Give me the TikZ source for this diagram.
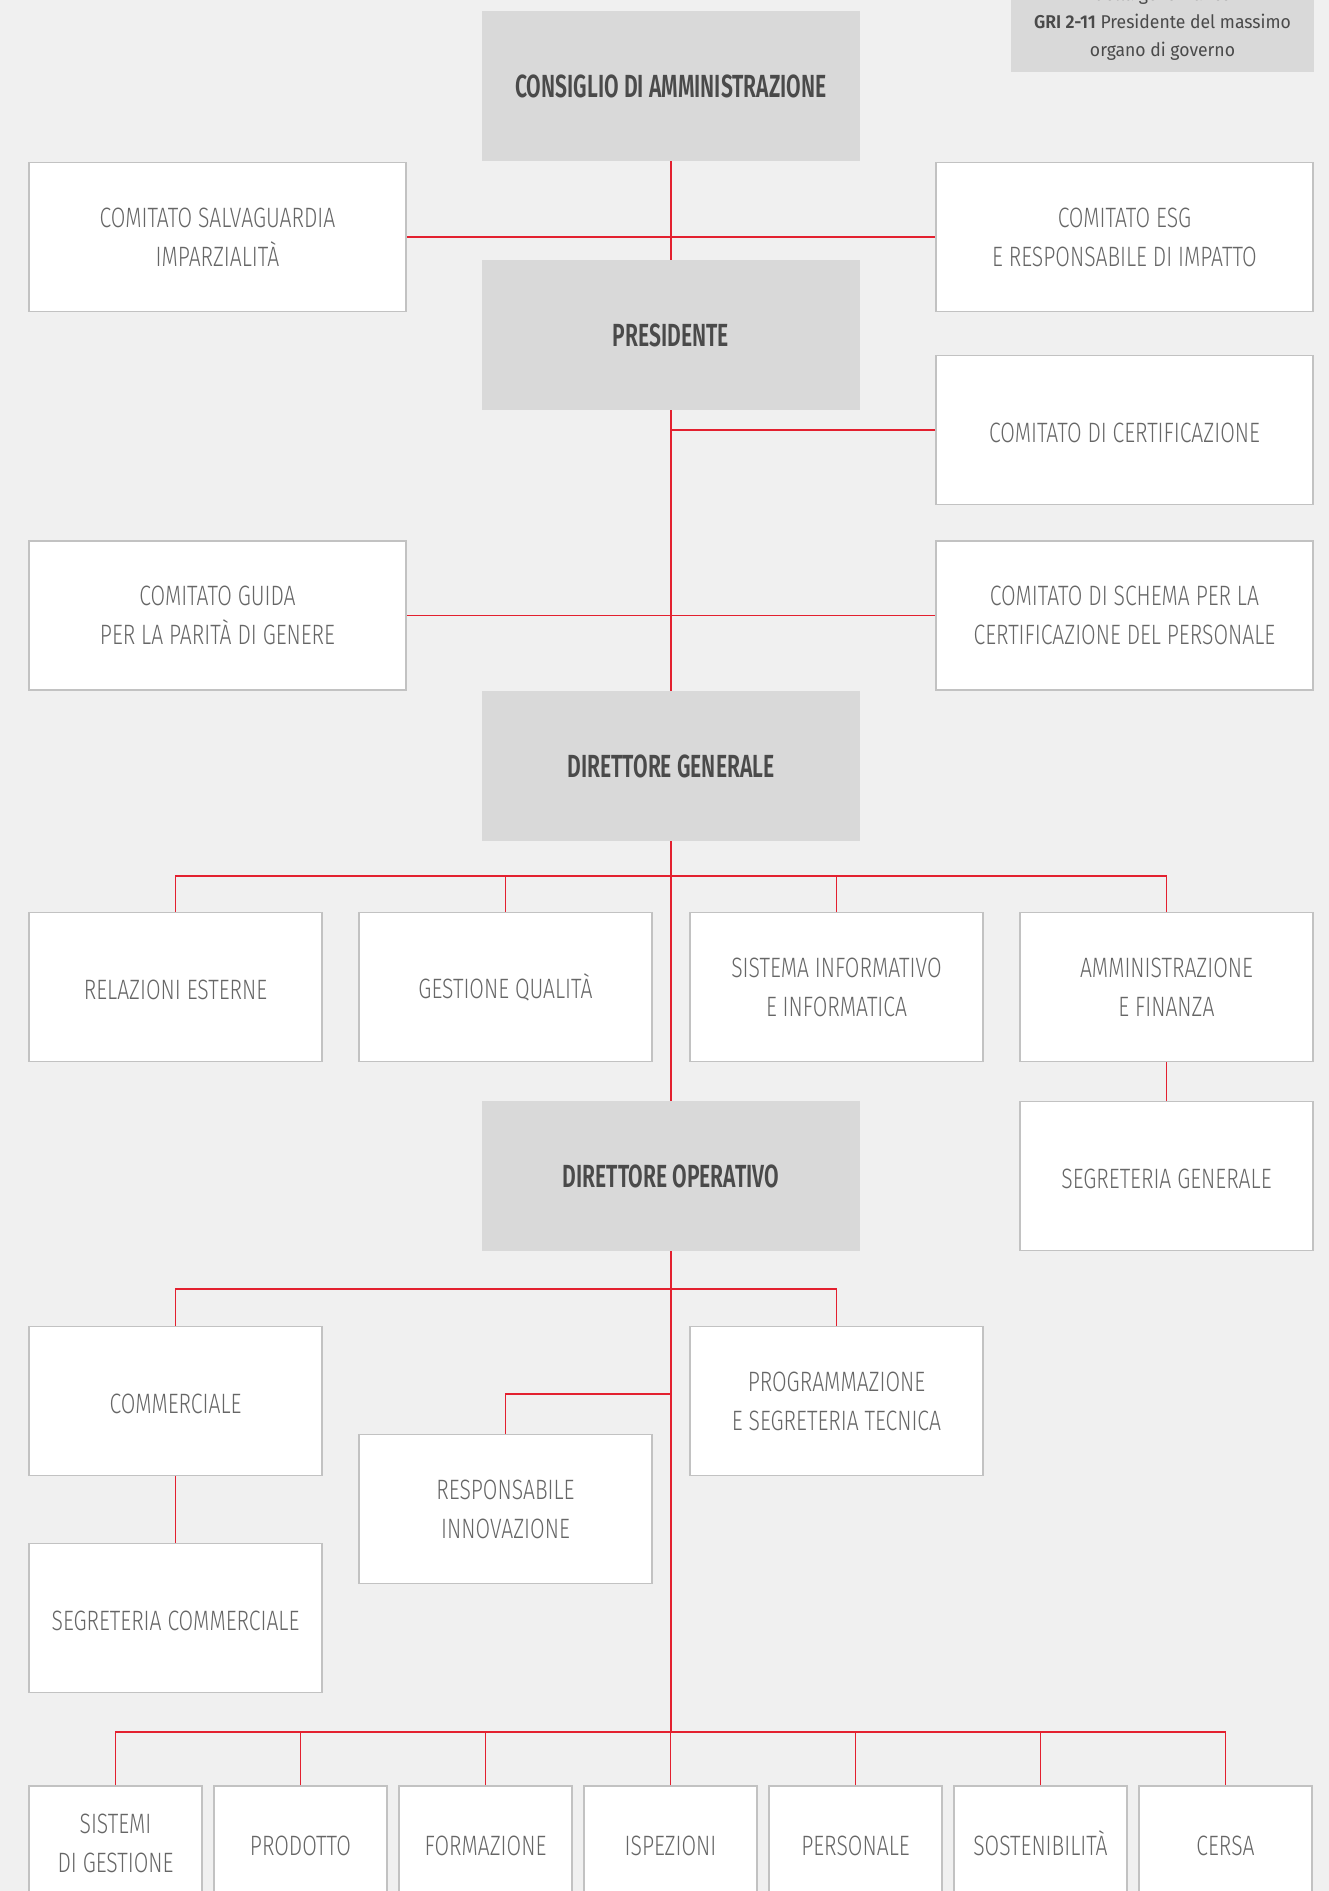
\documentclass[tikz,border=0pt]{standalone}
\usepackage{fontspec}
\setmainfont{Fira Sans}
\newfontfamily\lightf{Fira Sans Light}[FakeStretch=0.755]
\newfontfamily\boldf{Fira Sans SemiBold}[FakeStretch=0.66]
\newfontfamily\notef{Fira Sans}[FakeStretch=0.95]
\newfontfamily\notebf{Fira Sans SemiBold}[FakeStretch=0.95]
\newcommand{\acph}{\vphantom{À}}
\definecolor{bg}{HTML}{F0F0F0}
\definecolor{boxgray}{HTML}{D9D9D9}
\definecolor{headtxt}{HTML}{4A4A4A}
\definecolor{bodytxt}{HTML}{666666}
\definecolor{boxline}{HTML}{C2C2C2}
\definecolor{linkred}{HTML}{E3202F}
\begin{document}
\begin{tikzpicture}[x=1pt,y=-1pt,
  gbox/.style={fill=boxgray, draw=none, minimum width=378pt, minimum height=150pt, inner sep=0pt, font=\boldf\fontsize{32}{38}\selectfont, text=headtxt},
  wbox/.style={fill=white, draw=boxline, line width=1.5pt, minimum height=149pt, inner sep=0pt, align=center, font=\lightf\fontsize{28}{39}\selectfont, text=bodytxt},
  widebox/.style={wbox, minimum width=377pt},
  midbox/.style={wbox, minimum width=293pt},
  smallbox/.style={wbox, minimum width=173pt, minimum height=114pt},
  link/.style={draw=linkred, line width=1.5pt}]
\useasboundingbox (0,0) rectangle (1329,1891);
\clip (0,0) rectangle (1329,1891);
\fill[bg] (0,0) rectangle (1329,1891);

% note box
\node[fill=boxgray, minimum width=303pt, minimum height=96pt, inner sep=0pt, align=center,
  font=\notef\fontsize{18.5}{28}\selectfont, text=headtxt] (note) at (1162.5,24)
  {della governance\\{\notebf GRI 2-11} Presidente del massimo\\organo di governo};

% main column
\node[gbox] (cda) at (671,86) {CONSIGLIO DI AMMINISTRAZIONE};
\node[gbox] (pres) at (671,335) {PRESIDENTE};
\node[gbox] (dg) at (671,766) {DIRETTORE GENERALE};
\node[gbox] (do) at (671,1176) {DIRETTORE OPERATIVO};

% committees
\node[widebox] (salv) at (217.5,237) {COMITATO SALVAGUARDIA\\IMPARZIALITÀ};
\node[widebox] (esg) at (1124.5,237) {COMITATO ESG\\E RESPONSABILE DI IMPATTO};
\node[widebox] (cert) at (1124.5,430) {\acph COMITATO DI CERTIFICAZIONE};
\node[widebox] (guida) at (217.5,615.5) {COMITATO GUIDA\\PER LA PARITÀ DI GENERE};
\node[widebox] (schema) at (1124.5,615.5) {COMITATO DI SCHEMA PER LA\\CERTIFICAZIONE DEL PERSONALE};

% first row
\node[midbox] (re) at (175.5,987) {\acph RELAZIONI ESTERNE};
\node[midbox] (gq) at (505.5,987) {GESTIONE QUALITÀ};
\node[midbox] (si) at (836.5,987) {SISTEMA INFORMATIVO\\E INFORMATICA};
\node[midbox] (af) at (1166.5,987) {AMMINISTRAZIONE\\E FINANZA};
\node[midbox] (segen) at (1166.5,1176) {\acph SEGRETERIA GENERALE};

% operations
\node[midbox] (comm) at (175.5,1401) {\acph COMMERCIALE};
\node[midbox] (prog) at (836.5,1401) {PROGRAMMAZIONE\\E SEGRETERIA TECNICA};
\node[midbox] (innov) at (505.5,1509) {RESPONSABILE\\INNOVAZIONE};
\node[midbox] (segcomm) at (175.5,1618) {\acph SEGRETERIA COMMERCIALE};

% bottom row
\node[smallbox] (b1) at (115.5,1843) {SISTEMI\\DI GESTIONE};
\node[smallbox] (b2) at (300.5,1843) {\acph PRODOTTO};
\node[smallbox] (b3) at (485.5,1843) {\acph FORMAZIONE};
\node[smallbox] (b4) at (670.5,1843) {\acph ISPEZIONI};
\node[smallbox] (b5) at (855.5,1843) {\acph PERSONALE};
\node[smallbox] (b6) at (1040.5,1843) {SOSTENIBILITÀ};
\node[smallbox] (b7) at (1225.5,1843) {\acph CERSA};

% connectors
\coordinate (bus1) at (671,876);
\coordinate (bus2) at (671,1289);
\coordinate (bus3) at (671,1394);
\coordinate (bus4) at (671,1732);
\draw[link] (cda.south) -- (pres.north);
\draw[link] (salv.east) -- (esg.west);
\draw[link] (pres.south) -- (dg.north);
\draw[link] (cert.west) -- (cert.west -| pres.south);
\draw[link] (guida.east) -- (schema.west);
\draw[link] (dg.south) -- (do.north);
\draw[link] (re.north) |- (bus1) -| (af.north);
\draw[link] (gq.north) |- (bus1);
\draw[link] (si.north) |- (bus1);
\draw[link] (af.south) -- (segen.north);
\draw[link] (comm.north) |- (bus2) -| (prog.north);
\draw[link] (innov.north) |- (bus3);
\draw[link] (comm.south) -- (segcomm.north);
\draw[link] (do.south) -- (bus4);
\draw[link] (b1.north) |- (bus4) -| (b7.north);
\foreach \b in {b2,b3,b4,b5,b6} \draw[link] (\b.north) |- (bus4);
\end{tikzpicture}
\end{document}
